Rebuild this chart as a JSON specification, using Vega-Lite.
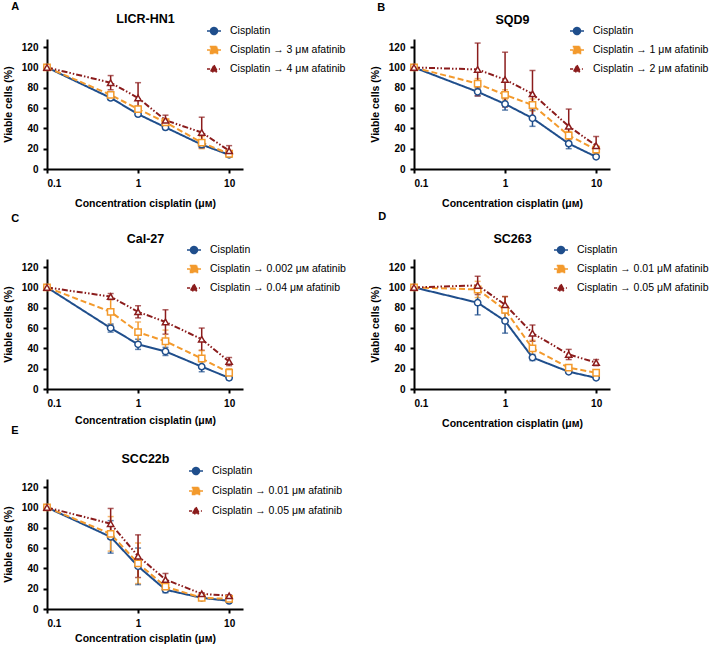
{
  "$schema": "https://vega.github.io/schema/vega-lite/v6.json",
  "background": "white",
  "padding": {"left": 3, "top": 1, "right": 0, "bottom": 0},
  "autosize": {"type": "pad"},
  "config": {
    "view": {"stroke": null},
    "font": "Liberation Sans",
    "axis": {"grid": false, "domainColor": "black", "domainWidth": 2, "tickColor": "black", "tickWidth": 2, "tickSize": 4, "labelFont": "Liberation Sans", "labelFontWeight": "bold", "labelFontSize": 10, "labelColor": "black", "labelPadding": 5, "titleFont": "Liberation Sans", "titleFontWeight": "bold", "titleFontSize": 10.5, "titleColor": "black", "titlePadding": 8},
    "legend": {"title": null, "orient": "none", "symbolSize": 196, "symbolStrokeWidth": 1.5, "symbolOpacity": 1, "symbolFillColor": "white", "labelFont": "Liberation Sans", "labelFontSize": 10.5, "labelColor": "black", "rowPadding": 4, "labelOffset": 8, "padding": 0, "labelLimit": 300},
    "title": {"font": "Liberation Sans", "fontWeight": "bold", "fontSize": 11, "color": "black", "anchor": "start", "frame": "bounds"}
  },
  "datasets": {
    "A": [
      {"s": "Cisplatin", "x": 0.1, "y": 100, "lo": 100, "hi": 100},
      {"s": "Cisplatin", "x": 0.5, "y": 70, "lo": 68, "hi": 72},
      {"s": "Cisplatin", "x": 1, "y": 54, "lo": 52, "hi": 56},
      {"s": "Cisplatin", "x": 2, "y": 41, "lo": 39, "hi": 43},
      {"s": "Cisplatin", "x": 5, "y": 24, "lo": 21, "hi": 27},
      {"s": "Cisplatin", "x": 10, "y": 14, "lo": 12, "hi": 16},
      {"s": "Cisplatin → 3 μᴍ afatinib", "x": 0.1, "y": 100, "lo": 100, "hi": 100},
      {"s": "Cisplatin → 3 μᴍ afatinib", "x": 0.5, "y": 73, "lo": 71, "hi": 75},
      {"s": "Cisplatin → 3 μᴍ afatinib", "x": 1, "y": 59, "lo": 56, "hi": 62},
      {"s": "Cisplatin → 3 μᴍ afatinib", "x": 2, "y": 46, "lo": 43, "hi": 49},
      {"s": "Cisplatin → 3 μᴍ afatinib", "x": 5, "y": 26, "lo": 20, "hi": 32},
      {"s": "Cisplatin → 3 μᴍ afatinib", "x": 10, "y": 15, "lo": 13, "hi": 17},
      {"s": "Cisplatin → 4 μᴍ afatinib", "x": 0.1, "y": 100, "lo": 100, "hi": 100},
      {"s": "Cisplatin → 4 μᴍ afatinib", "x": 0.5, "y": 85, "lo": 78, "hi": 92},
      {"s": "Cisplatin → 4 μᴍ afatinib", "x": 1, "y": 70, "lo": 55, "hi": 85},
      {"s": "Cisplatin → 4 μᴍ afatinib", "x": 2, "y": 48, "lo": 43, "hi": 53},
      {"s": "Cisplatin → 4 μᴍ afatinib", "x": 5, "y": 36, "lo": 21, "hi": 51},
      {"s": "Cisplatin → 4 μᴍ afatinib", "x": 10, "y": 18, "lo": 13, "hi": 23}
    ],
    "B": [
      {"s": "Cisplatin", "x": 0.1, "y": 100, "lo": 100, "hi": 100},
      {"s": "Cisplatin", "x": 0.5, "y": 76, "lo": 72, "hi": 80},
      {"s": "Cisplatin", "x": 1, "y": 64, "lo": 58, "hi": 70},
      {"s": "Cisplatin", "x": 2, "y": 50, "lo": 42, "hi": 58},
      {"s": "Cisplatin", "x": 5, "y": 25, "lo": 20, "hi": 30},
      {"s": "Cisplatin", "x": 10, "y": 12, "lo": 11, "hi": 13},
      {"s": "Cisplatin → 1 μᴍ afatinib", "x": 0.1, "y": 100, "lo": 100, "hi": 100},
      {"s": "Cisplatin → 1 μᴍ afatinib", "x": 0.5, "y": 84, "lo": 79, "hi": 89},
      {"s": "Cisplatin → 1 μᴍ afatinib", "x": 1, "y": 73, "lo": 68, "hi": 78},
      {"s": "Cisplatin → 1 μᴍ afatinib", "x": 2, "y": 63, "lo": 57, "hi": 69},
      {"s": "Cisplatin → 1 μᴍ afatinib", "x": 5, "y": 33, "lo": 29, "hi": 37},
      {"s": "Cisplatin → 1 μᴍ afatinib", "x": 10, "y": 19, "lo": 15, "hi": 23},
      {"s": "Cisplatin → 2 μᴍ afatinib", "x": 0.1, "y": 100, "lo": 100, "hi": 100},
      {"s": "Cisplatin → 2 μᴍ afatinib", "x": 0.5, "y": 98, "lo": 72, "hi": 124},
      {"s": "Cisplatin → 2 μᴍ afatinib", "x": 1, "y": 88, "lo": 61, "hi": 115},
      {"s": "Cisplatin → 2 μᴍ afatinib", "x": 2, "y": 74, "lo": 51, "hi": 97},
      {"s": "Cisplatin → 2 μᴍ afatinib", "x": 5, "y": 42, "lo": 25, "hi": 59},
      {"s": "Cisplatin → 2 μᴍ afatinib", "x": 10, "y": 23, "lo": 14, "hi": 32}
    ],
    "C": [
      {"s": "Cisplatin", "x": 0.1, "y": 100, "lo": 100, "hi": 100},
      {"s": "Cisplatin", "x": 0.5, "y": 60, "lo": 56, "hi": 64},
      {"s": "Cisplatin", "x": 1, "y": 44, "lo": 39, "hi": 49},
      {"s": "Cisplatin", "x": 2, "y": 37, "lo": 33, "hi": 41},
      {"s": "Cisplatin", "x": 5, "y": 22, "lo": 17, "hi": 27},
      {"s": "Cisplatin", "x": 10, "y": 11, "lo": 9, "hi": 13},
      {"s": "Cisplatin → 0.002 μᴍ afatinib", "x": 0.1, "y": 100, "lo": 100, "hi": 100},
      {"s": "Cisplatin → 0.002 μᴍ afatinib", "x": 0.5, "y": 76, "lo": 63, "hi": 89},
      {"s": "Cisplatin → 0.002 μᴍ afatinib", "x": 1, "y": 56, "lo": 46, "hi": 66},
      {"s": "Cisplatin → 0.002 μᴍ afatinib", "x": 2, "y": 47, "lo": 36, "hi": 58},
      {"s": "Cisplatin → 0.002 μᴍ afatinib", "x": 5, "y": 30, "lo": 22, "hi": 38},
      {"s": "Cisplatin → 0.002 μᴍ afatinib", "x": 10, "y": 16, "lo": 12, "hi": 20},
      {"s": "Cisplatin → 0.04 μᴍ afatinib", "x": 0.1, "y": 100, "lo": 100, "hi": 100},
      {"s": "Cisplatin → 0.04 μᴍ afatinib", "x": 0.5, "y": 91, "lo": 88, "hi": 94},
      {"s": "Cisplatin → 0.04 μᴍ afatinib", "x": 1, "y": 76, "lo": 70, "hi": 82},
      {"s": "Cisplatin → 0.04 μᴍ afatinib", "x": 2, "y": 66, "lo": 54, "hi": 78},
      {"s": "Cisplatin → 0.04 μᴍ afatinib", "x": 5, "y": 49, "lo": 38, "hi": 60},
      {"s": "Cisplatin → 0.04 μᴍ afatinib", "x": 10, "y": 27, "lo": 23, "hi": 31}
    ],
    "D": [
      {"s": "Cisplatin", "x": 0.1, "y": 100, "lo": 100, "hi": 100},
      {"s": "Cisplatin", "x": 0.5, "y": 85, "lo": 73, "hi": 97},
      {"s": "Cisplatin", "x": 1, "y": 67, "lo": 55, "hi": 79},
      {"s": "Cisplatin", "x": 2, "y": 31, "lo": 28, "hi": 34},
      {"s": "Cisplatin", "x": 5, "y": 17, "lo": 16, "hi": 18},
      {"s": "Cisplatin", "x": 10, "y": 11, "lo": 10, "hi": 12},
      {"s": "Cisplatin → 0.01 μM afatinib", "x": 0.1, "y": 100, "lo": 100, "hi": 100},
      {"s": "Cisplatin → 0.01 μM afatinib", "x": 0.5, "y": 98, "lo": 90, "hi": 106},
      {"s": "Cisplatin → 0.01 μM afatinib", "x": 1, "y": 78, "lo": 65, "hi": 91},
      {"s": "Cisplatin → 0.01 μM afatinib", "x": 2, "y": 40, "lo": 32, "hi": 48},
      {"s": "Cisplatin → 0.01 μM afatinib", "x": 5, "y": 21, "lo": 19, "hi": 23},
      {"s": "Cisplatin → 0.01 μM afatinib", "x": 10, "y": 16, "lo": 14, "hi": 18},
      {"s": "Cisplatin → 0.05 μM afatinib", "x": 0.1, "y": 100, "lo": 100, "hi": 100},
      {"s": "Cisplatin → 0.05 μM afatinib", "x": 0.5, "y": 102, "lo": 93, "hi": 111},
      {"s": "Cisplatin → 0.05 μM afatinib", "x": 1, "y": 83, "lo": 75, "hi": 91},
      {"s": "Cisplatin → 0.05 μM afatinib", "x": 2, "y": 55, "lo": 47, "hi": 63},
      {"s": "Cisplatin → 0.05 μM afatinib", "x": 5, "y": 34, "lo": 29, "hi": 39},
      {"s": "Cisplatin → 0.05 μM afatinib", "x": 10, "y": 26, "lo": 23, "hi": 29}
    ],
    "E": [
      {"s": "Cisplatin", "x": 0.1, "y": 100, "lo": 100, "hi": 100},
      {"s": "Cisplatin", "x": 0.5, "y": 71, "lo": 55, "hi": 87},
      {"s": "Cisplatin", "x": 1, "y": 42, "lo": 24, "hi": 60},
      {"s": "Cisplatin", "x": 2, "y": 19, "lo": 16, "hi": 22},
      {"s": "Cisplatin", "x": 5, "y": 11, "lo": 10, "hi": 12},
      {"s": "Cisplatin", "x": 10, "y": 8, "lo": 7, "hi": 9},
      {"s": "Cisplatin → 0.01 μᴍ afatinib", "x": 0.1, "y": 100, "lo": 100, "hi": 100},
      {"s": "Cisplatin → 0.01 μᴍ afatinib", "x": 0.5, "y": 74, "lo": 57, "hi": 91},
      {"s": "Cisplatin → 0.01 μᴍ afatinib", "x": 1, "y": 45, "lo": 25, "hi": 65},
      {"s": "Cisplatin → 0.01 μᴍ afatinib", "x": 2, "y": 22, "lo": 19, "hi": 25},
      {"s": "Cisplatin → 0.01 μᴍ afatinib", "x": 5, "y": 11, "lo": 10, "hi": 12},
      {"s": "Cisplatin → 0.01 μᴍ afatinib", "x": 10, "y": 10, "lo": 9, "hi": 11},
      {"s": "Cisplatin → 0.05 μᴍ afatinib", "x": 0.1, "y": 100, "lo": 100, "hi": 100},
      {"s": "Cisplatin → 0.05 μᴍ afatinib", "x": 0.5, "y": 84, "lo": 69, "hi": 99},
      {"s": "Cisplatin → 0.05 μᴍ afatinib", "x": 1, "y": 52, "lo": 31, "hi": 73},
      {"s": "Cisplatin → 0.05 μᴍ afatinib", "x": 2, "y": 29, "lo": 23, "hi": 35},
      {"s": "Cisplatin → 0.05 μᴍ afatinib", "x": 5, "y": 15, "lo": 14, "hi": 16},
      {"s": "Cisplatin → 0.05 μᴍ afatinib", "x": 10, "y": 13, "lo": 12, "hi": 14}
    ]
  },
  "columns": 2,
  "bounds": "flush",
  "spacing": {"column": 171, "row": 90},
  "resolve": {"scale": {"color": "independent", "shape": "independent", "strokeDash": "independent"}},
  "concat": [
    {
      "width": 196, "height": 130,
      "data": {"name": "A"},
      "title": {"text": "A", "offset": 0, "dx": 8},
      "resolve": {"axis": {"x": "independent"}},
      "layer": [
        {"transform": [{"filter": "false"}],
         "mark": {"type": "point", "filled": false, "fill": "white", "strokeWidth": 1.5},
         "encoding": {
           "x": {"field": "x", "type": "quantitative", "axis": null},
           "y": {"field": "y", "type": "quantitative", "title": "Viable cells (%)", "axis": {"values": [0, 20, 40, 60, 80, 100, 120]}},
           "color": {"field": "s", "type": "nominal", "legend": {"legendX": 159, "legendY": -16, "symbolFillColor": "white"}},
           "shape": {"field": "s", "type": "nominal", "scale": {"domain": ["Cisplatin", "Cisplatin → 3 μᴍ afatinib", "Cisplatin → 4 μᴍ afatinib"], "range": ["M-1,0H-0.5M0.5,0H1M0.5,0A0.5,0.5,0,1,1,-0.5,0A0.5,0.5,0,1,1,0.5,0Z", "M-1,0H-0.5M0.5,0H1M-0.5,-0.5H0.5V0.5H-0.5Z", "M-1,0H-0.55M0.7,0H0.85M0,-0.55L0.5,0.4H-0.5Z"]}, "legend": {"legendX": 159, "legendY": -16, "symbolFillColor": "white"}}
         }},
        {"mark": {"type": "line", "strokeWidth": 2},
         "encoding": {
           "x": {"field": "x", "type": "quantitative", "scale": {"type": "log", "domain": [0.1, 14.2], "nice": false}, "axis": {"values": [0.1, 1, 10], "format": "~g", "title": "Concentration cisplatin (μᴍ)", "titlePadding": 10}},
           "y": {"field": "y", "type": "quantitative", "scale": {"domain": [0, 128], "nice": false}, "title": "Viable cells (%)", "axis": {"values": [0, 20, 40, 60, 80, 100, 120]}},
           "color": {"field": "s", "type": "nominal", "scale": {"domain": ["Cisplatin", "Cisplatin → 3 μᴍ afatinib", "Cisplatin → 4 μᴍ afatinib"], "range": ["#1f4e8c", "#f39a2d", "#8b1c1c"]}, "legend": null},
           "strokeDash": {"field": "s", "type": "nominal", "scale": {"domain": ["Cisplatin", "Cisplatin → 3 μᴍ afatinib", "Cisplatin → 4 μᴍ afatinib"], "range": [[1, 0], [6, 3], [6, 2, 1.5, 2, 1.5, 2]]}, "legend": null}
         }},
        {"transform": [{"filter": "datum.hi > datum.lo"}],
         "mark": {"type": "errorbar", "ticks": {"size": 6, "strokeWidth": 1.5}, "thickness": 1.5},
         "encoding": {
           "x": {"field": "x", "type": "quantitative", "axis": null},
           "y": {"field": "lo", "type": "quantitative", "title": "Viable cells (%)", "axis": {"values": [0, 20, 40, 60, 80, 100, 120]}},
           "y2": {"field": "hi"},
           "color": {"field": "s", "type": "nominal", "legend": null}
         }},
        {"transform": [{"filter": "datum.s === 'Cisplatin'"}],
         "mark": {"type": "point", "shape": "circle", "filled": false, "fill": "white", "fillOpacity": 1, "size": 40, "strokeWidth": 1.5, "opacity": 1},
         "encoding": {
           "x": {"field": "x", "type": "quantitative", "axis": null},
           "y": {"field": "y", "type": "quantitative", "title": "Viable cells (%)", "axis": {"values": [0, 20, 40, 60, 80, 100, 120]}},
           "color": {"field": "s", "type": "nominal", "legend": null}
         }},
        {"transform": [{"filter": "datum.s === 'Cisplatin → 3 μᴍ afatinib'"}],
         "mark": {"type": "point", "shape": "square", "filled": false, "fill": "white", "fillOpacity": 1, "size": 40, "strokeWidth": 1.5, "opacity": 1},
         "encoding": {
           "x": {"field": "x", "type": "quantitative", "axis": null},
           "y": {"field": "y", "type": "quantitative", "title": "Viable cells (%)", "axis": {"values": [0, 20, 40, 60, 80, 100, 120]}},
           "color": {"field": "s", "type": "nominal", "legend": null}
         }},
        {"transform": [{"filter": "datum.s === 'Cisplatin → 4 μᴍ afatinib'"}],
         "mark": {"type": "point", "shape": "triangle-up", "filled": false, "fill": "white", "fillOpacity": 1, "size": 40, "strokeWidth": 1.5, "opacity": 1},
         "encoding": {
           "x": {"field": "x", "type": "quantitative", "axis": {"orient": "top", "domain": false, "ticks": false, "labels": false, "title": "LICR-HN1", "titleY": -17, "titleBaseline": "alphabetic", "titleFontSize": 12.5}},
           "y": {"field": "y", "type": "quantitative", "title": "Viable cells (%)", "axis": {"values": [0, 20, 40, 60, 80, 100, 120]}},
           "color": {"field": "s", "type": "nominal", "legend": null}
         }}
      ]
    },
    {
      "width": 196, "height": 130,
      "data": {"name": "B"},
      "title": {"text": "B", "offset": 0, "dx": 7},
      "resolve": {"axis": {"x": "independent"}},
      "layer": [
        {"transform": [{"filter": "false"}],
         "mark": {"type": "point", "filled": false, "fill": "white", "strokeWidth": 1.5},
         "encoding": {
           "x": {"field": "x", "type": "quantitative", "axis": null},
           "y": {"field": "y", "type": "quantitative", "title": "Viable cells (%)", "axis": {"values": [0, 20, 40, 60, 80, 100, 120]}},
           "color": {"field": "s", "type": "nominal", "legend": {"legendX": 155, "legendY": -16, "symbolFillColor": "white"}},
           "shape": {"field": "s", "type": "nominal", "scale": {"domain": ["Cisplatin", "Cisplatin → 1 μᴍ afatinib", "Cisplatin → 2 μᴍ afatinib"], "range": ["M-1,0H-0.5M0.5,0H1M0.5,0A0.5,0.5,0,1,1,-0.5,0A0.5,0.5,0,1,1,0.5,0Z", "M-1,0H-0.5M0.5,0H1M-0.5,-0.5H0.5V0.5H-0.5Z", "M-1,0H-0.55M0.7,0H0.85M0,-0.55L0.5,0.4H-0.5Z"]}, "legend": {"legendX": 155, "legendY": -16, "symbolFillColor": "white"}}
         }},
        {"mark": {"type": "line", "strokeWidth": 2},
         "encoding": {
           "x": {"field": "x", "type": "quantitative", "scale": {"type": "log", "domain": [0.1, 14.2], "nice": false}, "axis": {"values": [0.1, 1, 10], "format": "~g", "title": "Concentration cisplatin (μᴍ)", "titlePadding": 10}},
           "y": {"field": "y", "type": "quantitative", "scale": {"domain": [0, 128], "nice": false}, "title": "Viable cells (%)", "axis": {"values": [0, 20, 40, 60, 80, 100, 120]}},
           "color": {"field": "s", "type": "nominal", "scale": {"domain": ["Cisplatin", "Cisplatin → 1 μᴍ afatinib", "Cisplatin → 2 μᴍ afatinib"], "range": ["#1f4e8c", "#f39a2d", "#8b1c1c"]}, "legend": null},
           "strokeDash": {"field": "s", "type": "nominal", "scale": {"domain": ["Cisplatin", "Cisplatin → 1 μᴍ afatinib", "Cisplatin → 2 μᴍ afatinib"], "range": [[1, 0], [6, 3], [6, 2, 1.5, 2, 1.5, 2]]}, "legend": null}
         }},
        {"transform": [{"filter": "datum.hi > datum.lo"}],
         "mark": {"type": "errorbar", "ticks": {"size": 6, "strokeWidth": 1.5}, "thickness": 1.5},
         "encoding": {
           "x": {"field": "x", "type": "quantitative", "axis": null},
           "y": {"field": "lo", "type": "quantitative", "title": "Viable cells (%)", "axis": {"values": [0, 20, 40, 60, 80, 100, 120]}},
           "y2": {"field": "hi"},
           "color": {"field": "s", "type": "nominal", "legend": null}
         }},
        {"transform": [{"filter": "datum.s === 'Cisplatin'"}],
         "mark": {"type": "point", "shape": "circle", "filled": false, "fill": "white", "fillOpacity": 1, "size": 40, "strokeWidth": 1.5, "opacity": 1},
         "encoding": {
           "x": {"field": "x", "type": "quantitative", "axis": null},
           "y": {"field": "y", "type": "quantitative", "title": "Viable cells (%)", "axis": {"values": [0, 20, 40, 60, 80, 100, 120]}},
           "color": {"field": "s", "type": "nominal", "legend": null}
         }},
        {"transform": [{"filter": "datum.s === 'Cisplatin → 1 μᴍ afatinib'"}],
         "mark": {"type": "point", "shape": "square", "filled": false, "fill": "white", "fillOpacity": 1, "size": 40, "strokeWidth": 1.5, "opacity": 1},
         "encoding": {
           "x": {"field": "x", "type": "quantitative", "axis": null},
           "y": {"field": "y", "type": "quantitative", "title": "Viable cells (%)", "axis": {"values": [0, 20, 40, 60, 80, 100, 120]}},
           "color": {"field": "s", "type": "nominal", "legend": null}
         }},
        {"transform": [{"filter": "datum.s === 'Cisplatin → 2 μᴍ afatinib'"}],
         "mark": {"type": "point", "shape": "triangle-up", "filled": false, "fill": "white", "fillOpacity": 1, "size": 40, "strokeWidth": 1.5, "opacity": 1},
         "encoding": {
           "x": {"field": "x", "type": "quantitative", "axis": {"orient": "top", "domain": false, "ticks": false, "labels": false, "title": "SQD9", "titleY": -16, "titleBaseline": "alphabetic", "titleFontSize": 12.5}},
           "y": {"field": "y", "type": "quantitative", "title": "Viable cells (%)", "axis": {"values": [0, 20, 40, 60, 80, 100, 120]}},
           "color": {"field": "s", "type": "nominal", "legend": null}
         }}
      ]
    },
    {
      "width": 196, "height": 130,
      "data": {"name": "C"},
      "title": {"text": "C", "offset": 8, "dx": 8},
      "resolve": {"axis": {"x": "independent"}},
      "layer": [
        {"transform": [{"filter": "false"}],
         "mark": {"type": "point", "filled": false, "fill": "white", "strokeWidth": 1.5},
         "encoding": {
           "x": {"field": "x", "type": "quantitative", "axis": null},
           "y": {"field": "y", "type": "quantitative", "title": "Viable cells (%)", "axis": {"values": [0, 20, 40, 60, 80, 100, 120]}},
           "color": {"field": "s", "type": "nominal", "legend": {"legendX": 139, "legendY": -17, "symbolFillColor": "white"}},
           "shape": {"field": "s", "type": "nominal", "scale": {"domain": ["Cisplatin", "Cisplatin → 0.002 μᴍ afatinib", "Cisplatin → 0.04 μᴍ afatinib"], "range": ["M-1,0H-0.5M0.5,0H1M0.5,0A0.5,0.5,0,1,1,-0.5,0A0.5,0.5,0,1,1,0.5,0Z", "M-1,0H-0.5M0.5,0H1M-0.5,-0.5H0.5V0.5H-0.5Z", "M-1,0H-0.55M0.7,0H0.85M0,-0.55L0.5,0.4H-0.5Z"]}, "legend": {"legendX": 139, "legendY": -17, "symbolFillColor": "white"}}
         }},
        {"mark": {"type": "line", "strokeWidth": 2},
         "encoding": {
           "x": {"field": "x", "type": "quantitative", "scale": {"type": "log", "domain": [0.1, 14.2], "nice": false}, "axis": {"values": [0.1, 1, 10], "format": "~g", "title": "Concentration cisplatin (μᴍ)", "titlePadding": 7}},
           "y": {"field": "y", "type": "quantitative", "scale": {"domain": [0, 128], "nice": false}, "title": "Viable cells (%)", "axis": {"values": [0, 20, 40, 60, 80, 100, 120]}},
           "color": {"field": "s", "type": "nominal", "scale": {"domain": ["Cisplatin", "Cisplatin → 0.002 μᴍ afatinib", "Cisplatin → 0.04 μᴍ afatinib"], "range": ["#1f4e8c", "#f39a2d", "#8b1c1c"]}, "legend": null},
           "strokeDash": {"field": "s", "type": "nominal", "scale": {"domain": ["Cisplatin", "Cisplatin → 0.002 μᴍ afatinib", "Cisplatin → 0.04 μᴍ afatinib"], "range": [[1, 0], [6, 3], [6, 2, 1.5, 2, 1.5, 2]]}, "legend": null}
         }},
        {"transform": [{"filter": "datum.hi > datum.lo"}],
         "mark": {"type": "errorbar", "ticks": {"size": 6, "strokeWidth": 1.5}, "thickness": 1.5},
         "encoding": {
           "x": {"field": "x", "type": "quantitative", "axis": null},
           "y": {"field": "lo", "type": "quantitative", "title": "Viable cells (%)", "axis": {"values": [0, 20, 40, 60, 80, 100, 120]}},
           "y2": {"field": "hi"},
           "color": {"field": "s", "type": "nominal", "legend": null}
         }},
        {"transform": [{"filter": "datum.s === 'Cisplatin'"}],
         "mark": {"type": "point", "shape": "circle", "filled": false, "fill": "white", "fillOpacity": 1, "size": 40, "strokeWidth": 1.5, "opacity": 1},
         "encoding": {
           "x": {"field": "x", "type": "quantitative", "axis": null},
           "y": {"field": "y", "type": "quantitative", "title": "Viable cells (%)", "axis": {"values": [0, 20, 40, 60, 80, 100, 120]}},
           "color": {"field": "s", "type": "nominal", "legend": null}
         }},
        {"transform": [{"filter": "datum.s === 'Cisplatin → 0.002 μᴍ afatinib'"}],
         "mark": {"type": "point", "shape": "square", "filled": false, "fill": "white", "fillOpacity": 1, "size": 40, "strokeWidth": 1.5, "opacity": 1},
         "encoding": {
           "x": {"field": "x", "type": "quantitative", "axis": null},
           "y": {"field": "y", "type": "quantitative", "title": "Viable cells (%)", "axis": {"values": [0, 20, 40, 60, 80, 100, 120]}},
           "color": {"field": "s", "type": "nominal", "legend": null}
         }},
        {"transform": [{"filter": "datum.s === 'Cisplatin → 0.04 μᴍ afatinib'"}],
         "mark": {"type": "point", "shape": "triangle-up", "filled": false, "fill": "white", "fillOpacity": 1, "size": 40, "strokeWidth": 1.5, "opacity": 1},
         "encoding": {
           "x": {"field": "x", "type": "quantitative", "axis": {"orient": "top", "domain": false, "ticks": false, "labels": false, "title": "Cal-27", "titleY": -17, "titleBaseline": "alphabetic", "titleFontSize": 12.5}},
           "y": {"field": "y", "type": "quantitative", "title": "Viable cells (%)", "axis": {"values": [0, 20, 40, 60, 80, 100, 120]}},
           "color": {"field": "s", "type": "nominal", "legend": null}
         }}
      ]
    },
    {
      "width": 196, "height": 130,
      "data": {"name": "D"},
      "title": {"text": "D", "offset": 10, "dx": 8},
      "resolve": {"axis": {"x": "independent"}},
      "layer": [
        {"transform": [{"filter": "false"}],
         "mark": {"type": "point", "filled": false, "fill": "white", "strokeWidth": 1.5},
         "encoding": {
           "x": {"field": "x", "type": "quantitative", "axis": null},
           "y": {"field": "y", "type": "quantitative", "title": "Viable cells (%)", "axis": {"values": [0, 20, 40, 60, 80, 100, 120]}},
           "color": {"field": "s", "type": "nominal", "legend": {"legendX": 139, "legendY": -17, "symbolFillColor": "white"}},
           "shape": {"field": "s", "type": "nominal", "scale": {"domain": ["Cisplatin", "Cisplatin → 0.01 μM afatinib", "Cisplatin → 0.05 μM afatinib"], "range": ["M-1,0H-0.5M0.5,0H1M0.5,0A0.5,0.5,0,1,1,-0.5,0A0.5,0.5,0,1,1,0.5,0Z", "M-1,0H-0.5M0.5,0H1M-0.5,-0.5H0.5V0.5H-0.5Z", "M-1,0H-0.55M0.7,0H0.85M0,-0.55L0.5,0.4H-0.5Z"]}, "legend": {"legendX": 139, "legendY": -17, "symbolFillColor": "white"}}
         }},
        {"mark": {"type": "line", "strokeWidth": 2},
         "encoding": {
           "x": {"field": "x", "type": "quantitative", "scale": {"type": "log", "domain": [0.1, 14.2], "nice": false}, "axis": {"values": [0.1, 1, 10], "format": "~g", "title": "Concentration cisplatin (μᴍ)", "titlePadding": 10}},
           "y": {"field": "y", "type": "quantitative", "scale": {"domain": [0, 128], "nice": false}, "title": "Viable cells (%)", "axis": {"values": [0, 20, 40, 60, 80, 100, 120]}},
           "color": {"field": "s", "type": "nominal", "scale": {"domain": ["Cisplatin", "Cisplatin → 0.01 μM afatinib", "Cisplatin → 0.05 μM afatinib"], "range": ["#1f4e8c", "#f39a2d", "#8b1c1c"]}, "legend": null},
           "strokeDash": {"field": "s", "type": "nominal", "scale": {"domain": ["Cisplatin", "Cisplatin → 0.01 μM afatinib", "Cisplatin → 0.05 μM afatinib"], "range": [[1, 0], [6, 3], [6, 2, 1.5, 2, 1.5, 2]]}, "legend": null}
         }},
        {"transform": [{"filter": "datum.hi > datum.lo"}],
         "mark": {"type": "errorbar", "ticks": {"size": 6, "strokeWidth": 1.5}, "thickness": 1.5},
         "encoding": {
           "x": {"field": "x", "type": "quantitative", "axis": null},
           "y": {"field": "lo", "type": "quantitative", "title": "Viable cells (%)", "axis": {"values": [0, 20, 40, 60, 80, 100, 120]}},
           "y2": {"field": "hi"},
           "color": {"field": "s", "type": "nominal", "legend": null}
         }},
        {"transform": [{"filter": "datum.s === 'Cisplatin'"}],
         "mark": {"type": "point", "shape": "circle", "filled": false, "fill": "white", "fillOpacity": 1, "size": 40, "strokeWidth": 1.5, "opacity": 1},
         "encoding": {
           "x": {"field": "x", "type": "quantitative", "axis": null},
           "y": {"field": "y", "type": "quantitative", "title": "Viable cells (%)", "axis": {"values": [0, 20, 40, 60, 80, 100, 120]}},
           "color": {"field": "s", "type": "nominal", "legend": null}
         }},
        {"transform": [{"filter": "datum.s === 'Cisplatin → 0.01 μM afatinib'"}],
         "mark": {"type": "point", "shape": "square", "filled": false, "fill": "white", "fillOpacity": 1, "size": 40, "strokeWidth": 1.5, "opacity": 1},
         "encoding": {
           "x": {"field": "x", "type": "quantitative", "axis": null},
           "y": {"field": "y", "type": "quantitative", "title": "Viable cells (%)", "axis": {"values": [0, 20, 40, 60, 80, 100, 120]}},
           "color": {"field": "s", "type": "nominal", "legend": null}
         }},
        {"transform": [{"filter": "datum.s === 'Cisplatin → 0.05 μM afatinib'"}],
         "mark": {"type": "point", "shape": "triangle-up", "filled": false, "fill": "white", "fillOpacity": 1, "size": 40, "strokeWidth": 1.5, "opacity": 1},
         "encoding": {
           "x": {"field": "x", "type": "quantitative", "axis": {"orient": "top", "domain": false, "ticks": false, "labels": false, "title": "SC263", "titleY": -17, "titleBaseline": "alphabetic", "titleFontSize": 12.5}},
           "y": {"field": "y", "type": "quantitative", "title": "Viable cells (%)", "axis": {"values": [0, 20, 40, 60, 80, 100, 120]}},
           "color": {"field": "s", "type": "nominal", "legend": null}
         }}
      ]
    },
    {
      "width": 196, "height": 130,
      "data": {"name": "E"},
      "title": {"text": "E", "offset": 16, "dx": 8},
      "resolve": {"axis": {"x": "independent"}},
      "layer": [
        {"transform": [{"filter": "false"}],
         "mark": {"type": "point", "filled": false, "fill": "white", "strokeWidth": 1.5},
         "encoding": {
           "x": {"field": "x", "type": "quantitative", "axis": null},
           "y": {"field": "y", "type": "quantitative", "title": "Viable cells (%)", "axis": {"values": [0, 20, 40, 60, 80, 100, 120]}},
           "color": {"field": "s", "type": "nominal", "legend": {"legendX": 141, "legendY": -16, "rowPadding": 5, "symbolFillColor": "white"}},
           "shape": {"field": "s", "type": "nominal", "scale": {"domain": ["Cisplatin", "Cisplatin → 0.01 μᴍ afatinib", "Cisplatin → 0.05 μᴍ afatinib"], "range": ["M-1,0H-0.5M0.5,0H1M0.5,0A0.5,0.5,0,1,1,-0.5,0A0.5,0.5,0,1,1,0.5,0Z", "M-1,0H-0.5M0.5,0H1M-0.5,-0.5H0.5V0.5H-0.5Z", "M-1,0H-0.55M0.7,0H0.85M0,-0.55L0.5,0.4H-0.5Z"]}, "legend": {"legendX": 141, "legendY": -16, "rowPadding": 5, "symbolFillColor": "white"}}
         }},
        {"mark": {"type": "line", "strokeWidth": 2},
         "encoding": {
           "x": {"field": "x", "type": "quantitative", "scale": {"type": "log", "domain": [0.1, 14.2], "nice": false}, "axis": {"values": [0.1, 1, 10], "format": "~g", "title": "Concentration cisplatin (μᴍ)", "titlePadding": 5}},
           "y": {"field": "y", "type": "quantitative", "scale": {"domain": [0, 128], "nice": false}, "title": "Viable cells (%)", "axis": {"values": [0, 20, 40, 60, 80, 100, 120]}},
           "color": {"field": "s", "type": "nominal", "scale": {"domain": ["Cisplatin", "Cisplatin → 0.01 μᴍ afatinib", "Cisplatin → 0.05 μᴍ afatinib"], "range": ["#1f4e8c", "#f39a2d", "#8b1c1c"]}, "legend": null},
           "strokeDash": {"field": "s", "type": "nominal", "scale": {"domain": ["Cisplatin", "Cisplatin → 0.01 μᴍ afatinib", "Cisplatin → 0.05 μᴍ afatinib"], "range": [[1, 0], [6, 3], [6, 2, 1.5, 2, 1.5, 2]]}, "legend": null}
         }},
        {"transform": [{"filter": "datum.hi > datum.lo"}],
         "mark": {"type": "errorbar", "ticks": {"size": 6, "strokeWidth": 1.5}, "thickness": 1.5},
         "encoding": {
           "x": {"field": "x", "type": "quantitative", "axis": null},
           "y": {"field": "lo", "type": "quantitative", "title": "Viable cells (%)", "axis": {"values": [0, 20, 40, 60, 80, 100, 120]}},
           "y2": {"field": "hi"},
           "color": {"field": "s", "type": "nominal", "legend": null}
         }},
        {"transform": [{"filter": "datum.s === 'Cisplatin'"}],
         "mark": {"type": "point", "shape": "circle", "filled": false, "fill": "white", "fillOpacity": 1, "size": 40, "strokeWidth": 1.5, "opacity": 1},
         "encoding": {
           "x": {"field": "x", "type": "quantitative", "axis": null},
           "y": {"field": "y", "type": "quantitative", "title": "Viable cells (%)", "axis": {"values": [0, 20, 40, 60, 80, 100, 120]}},
           "color": {"field": "s", "type": "nominal", "legend": null}
         }},
        {"transform": [{"filter": "datum.s === 'Cisplatin → 0.01 μᴍ afatinib'"}],
         "mark": {"type": "point", "shape": "square", "filled": false, "fill": "white", "fillOpacity": 1, "size": 40, "strokeWidth": 1.5, "opacity": 1},
         "encoding": {
           "x": {"field": "x", "type": "quantitative", "axis": null},
           "y": {"field": "y", "type": "quantitative", "title": "Viable cells (%)", "axis": {"values": [0, 20, 40, 60, 80, 100, 120]}},
           "color": {"field": "s", "type": "nominal", "legend": null}
         }},
        {"transform": [{"filter": "datum.s === 'Cisplatin → 0.05 μᴍ afatinib'"}],
         "mark": {"type": "point", "shape": "triangle-up", "filled": false, "fill": "white", "fillOpacity": 1, "size": 40, "strokeWidth": 1.5, "opacity": 1},
         "encoding": {
           "x": {"field": "x", "type": "quantitative", "axis": {"orient": "top", "domain": false, "ticks": false, "labels": false, "title": "SCC22b", "titleY": -17, "titleBaseline": "alphabetic", "titleFontSize": 12.5}},
           "y": {"field": "y", "type": "quantitative", "title": "Viable cells (%)", "axis": {"values": [0, 20, 40, 60, 80, 100, 120]}},
           "color": {"field": "s", "type": "nominal", "legend": null}
         }}
      ]
    }
  ]
}
